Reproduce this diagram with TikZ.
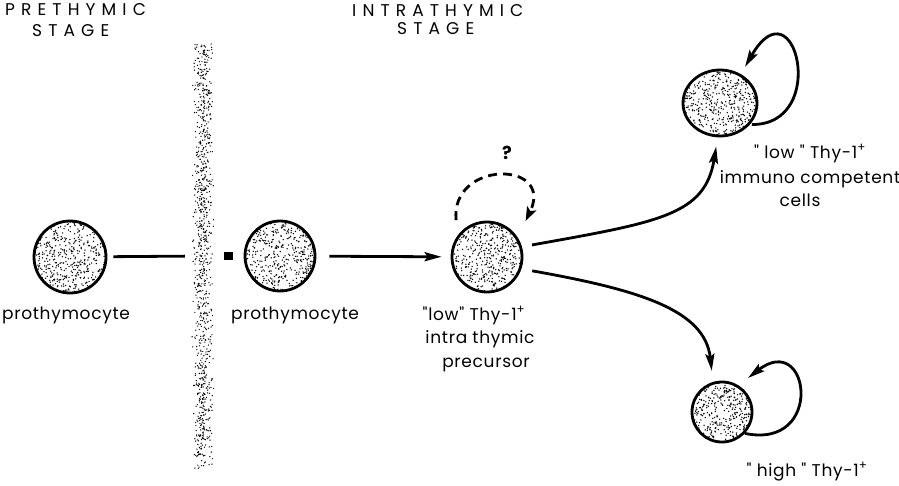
\documentclass[tikz,border=0pt]{standalone}
\usepackage{fontspec}
\setmainfont{Poppins}[Ligatures=TeXOff]
\usetikzlibrary{arrows.meta,shapes.geometric,calc}
\begin{document}
\begin{tikzpicture}[x=1pt,y=-1pt,
  stipple/.style={path picture={\foreach \i in {1,...,#1}{\fill (path picture bounding box.center) ++({rand*40},{rand*40}) circle[radius=0.75];}}},
  cell/.style={circle, draw, line width=2.8pt, minimum size=#1, inner sep=0pt, stipple=650},
  ocell/.style={ellipse, draw, line width=2.8pt, inner sep=0pt, stipple=650},
  lbl/.style={font=\fontsize{17}{24}\selectfont\addfontfeatures{LetterSpace=4}, anchor=base, inner sep=0pt},
  head/.style={font=\fontsize{17}{22}\selectfont\addfontfeatures{LetterSpace=36}, inner sep=0pt, anchor=west},
  conn/.style={line width=2.8pt},
  arr/.style={line width=2.8pt, -{Stealth[length=17pt,width=9pt,inset=3pt]}},
  darr/.style={line width=2.8pt, dash pattern=on 9pt off 6pt, -{Stealth[length=14pt,width=10pt,inset=3pt]}},
]
\pgfmathsetseed{4711}
\useasboundingbox (0,0) rectangle (899,485);

% headings
\node[head] (h1a) at (5,10) {PRETHYMIC};
\node[head] (h1b) at (32,31) {STAGE};
\node[head] (h2a) at (352,11) {INTRATHYMIC};
\node[head] (h2b) at (397,29) {STAGE};

% barrier
\node[minimum width=20pt, minimum height=430pt, inner sep=0pt] (bar) at (203,256) {};
\foreach \i in {1,...,950}{\fill ({203+5.5*(rand+rand)},{256+213*rand}) circle[radius=0.7];}

% cells
\node[cell=72pt] (c1) at (70,257) {};
\node[cell=70pt] (c2) at (280,256) {};
\node[cell=70pt] (c3) at (487,257) {};
\node[ocell, minimum width=74pt, minimum height=66pt] (c4) at (720,103) {};
\node[cell=60pt] (c5) at (722,412) {};

% square
\node[fill=black, minimum width=9pt, minimum height=8pt, inner sep=0pt] (sq) at (228,256) {};

% labels
\node[lbl] (l1) at (66,319) {prothymocyte};
\node[lbl] (l2) at (295,319) {prothymocyte};
\node[lbl] (l3a) at (474,320) {"low" Thy-1\textsuperscript{+}};
\node[lbl] (l3b) at (480,343) {intra thymic};
\node[lbl] (l3c) at (486,367) {precursor};
\node[lbl] (l4a) at (810,158) {" low " Thy-1\textsuperscript{+}};
\node[lbl] (l4b) at (810,183) {immuno competent};
\node[lbl] (l4c) at (800,206) {cells};
\node[lbl] (l5) at (807,476) {" high " Thy-1\textsuperscript{+}};
\node[font=\fontsize{18}{20}\selectfont\bfseries, inner sep=0pt] (q) at (507,153) {?};

% connectors
\draw[conn, shorten <=6pt, shorten >=8pt] (c1) -- (bar);
\draw[arr, shorten <=13pt, shorten >=9pt] (c2) -- (c3);
\draw[darr] ($(c3)!1.32!(c3.130)$) .. controls (450,160) and (555,160) .. ($(c3)!1.45!(c3.43)$);
\draw[arr] ($(c3)!1.28!(c3.15)$) .. controls (660,222) and (705,215) .. ($(c4)!1.27!(c4.265)$);
\draw[arr] ($(c3)!1.3!(c3.343)$) .. controls (640,290) and (705,310) .. ($(c5)!1.35!(c5.104)$);
\draw[arr] ($(c4)!1.04!(c4.326)$) .. controls (830,125) and (795,-20) .. (745,67);
\draw[arr] ($(c5)!1.0!(c5.317)$) .. controls (825,450) and (810,330) .. (748,378);
\end{tikzpicture}
\end{document}
